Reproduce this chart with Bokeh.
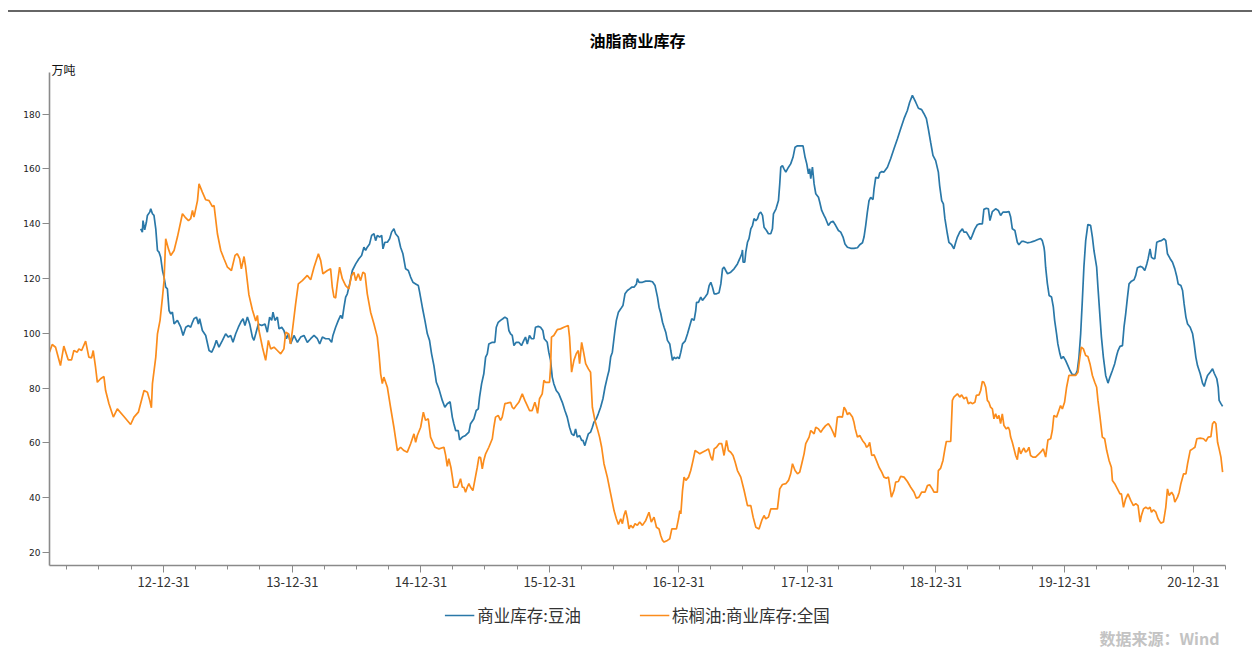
import numpy as np
import pandas as pd
from bokeh.plotting import figure
from bokeh.models import (Range1d, FixedTicker, CustomJSTickFormatter, Legend,
                          LegendItem, Div, Title, Label)
from bokeh.layouts import column
from bokeh.embed import file_html
from bokeh.resources import INLINE

TITLE = "油脂商业库存"
UNIT = "万吨"
SOURCE = "数据来源：Wind"
SERIES_NAMES = ["商业库存:豆油", "棕榈油:商业库存:全国"]

# dates as decimal years
soy_t = [2012.819, 2012.832, 2012.837, 2012.850, 2012.863, 2012.871, 2012.889, 2012.897, 2012.910, 2012.922,
         2012.936, 2012.949, 2012.961, 2012.974, 2012.988, 2013.000, 2013.013, 2013.026, 2013.039, 2013.052,
         2013.065, 2013.078, 2013.104, 2013.130, 2013.148, 2013.169, 2013.190, 2013.207, 2013.221, 2013.233,
         2013.252, 2013.267, 2013.277, 2013.298, 2013.324, 2013.350, 2013.371, 2013.389, 2013.407, 2013.427,
         2013.454, 2013.479, 2013.500, 2013.518, 2013.536, 2013.557, 2013.578, 2013.596, 2013.614, 2013.629,
         2013.648, 2013.666, 2013.687, 2013.699, 2013.713, 2013.733, 2013.759, 2013.785, 2013.803, 2013.821,
         2013.837, 2013.847, 2013.862, 2013.881, 2013.894, 2013.915, 2013.932, 2013.951, 2013.967, 2013.984,
         2014.010, 2014.037, 2014.062, 2014.088, 2014.114, 2014.140, 2014.166, 2014.192, 2014.210, 2014.231,
         2014.256, 2014.282, 2014.303, 2014.313, 2014.334, 2014.355, 2014.373, 2014.386, 2014.399, 2014.412,
         2014.425, 2014.443, 2014.464, 2014.490, 2014.515, 2014.536, 2014.554, 2014.567, 2014.580, 2014.598,
         2014.614, 2014.632, 2014.645, 2014.658, 2014.676, 2014.692, 2014.702, 2014.717, 2014.736, 2014.754,
         2014.769, 2014.787, 2014.800, 2014.821, 2014.839, 2014.857, 2014.878, 2014.899, 2014.917, 2014.935,
         2014.956, 2014.977, 2014.987, 2015.008, 2015.028, 2015.047, 2015.064, 2015.080, 2015.098, 2015.117,
         2015.137, 2015.163, 2015.183, 2015.202, 2015.224, 2015.241, 2015.253, 2015.267, 2015.287, 2015.298,
         2015.319, 2015.344, 2015.370, 2015.383, 2015.409, 2015.427, 2015.443, 2015.453, 2015.469, 2015.486,
         2015.500, 2015.513, 2015.525, 2015.552, 2015.572, 2015.583, 2015.598, 2015.616, 2015.634, 2015.650,
         2015.668, 2015.681, 2015.694, 2015.707, 2015.720, 2015.738, 2015.758, 2015.779, 2015.797, 2015.810,
         2015.824, 2015.841, 2015.857, 2015.875, 2015.888, 2015.909, 2015.927, 2015.945, 2015.956, 2015.979,
         2015.991, 2016.005, 2016.018, 2016.030, 2016.049, 2016.069, 2016.096, 2016.116, 2016.134, 2016.152,
         2016.168, 2016.186, 2016.199, 2016.212, 2016.230, 2016.246, 2016.256, 2016.271, 2016.282, 2016.298,
         2016.315, 2016.329, 2016.341, 2016.360, 2016.375, 2016.393, 2016.411, 2016.427, 2016.445, 2016.458,
         2016.471, 2016.484, 2016.504, 2016.515, 2016.531, 2016.549, 2016.566, 2016.582, 2016.601, 2016.618,
         2016.634, 2016.652, 2016.671, 2016.678, 2016.691, 2016.717, 2016.743, 2016.774, 2016.795, 2016.815,
         2016.834, 2016.846, 2016.859, 2016.873, 2016.885, 2016.898, 2016.911, 2016.929, 2016.937, 2016.950,
         2016.963, 2016.976, 2016.989, 2017.002, 2017.015, 2017.028, 2017.048, 2017.067, 2017.085, 2017.100,
         2017.118, 2017.131, 2017.137, 2017.152, 2017.170, 2017.183, 2017.204, 2017.222, 2017.235, 2017.248,
         2017.261, 2017.274, 2017.292, 2017.312, 2017.326, 2017.339, 2017.351, 2017.364, 2017.378, 2017.403,
         2017.429, 2017.455, 2017.473, 2017.489, 2017.494, 2017.499, 2017.512, 2017.520, 2017.533, 2017.545,
         2017.559, 2017.572, 2017.584, 2017.598, 2017.611, 2017.623, 2017.636, 2017.650, 2017.662, 2017.681,
         2017.696, 2017.714, 2017.727, 2017.735, 2017.755, 2017.774, 2017.784, 2017.792, 2017.805, 2017.817,
         2017.831, 2017.852, 2017.869, 2017.887, 2017.903, 2017.922, 2017.965, 2017.981, 2017.994, 2018.007,
         2018.017, 2018.025, 2018.038, 2018.051, 2018.064, 2018.085, 2018.095, 2018.110, 2018.128, 2018.141,
         2018.162, 2018.180, 2018.198, 2018.219, 2018.240, 2018.258, 2018.276, 2018.291, 2018.310, 2018.336,
         2018.361, 2018.388, 2018.406, 2018.427, 2018.439, 2018.452, 2018.465, 2018.478, 2018.491, 2018.509,
         2018.517, 2018.530, 2018.551, 2018.561, 2018.577, 2018.594, 2018.621, 2018.646, 2018.672, 2018.699,
         2018.724, 2018.750, 2018.776, 2018.794, 2018.815, 2018.841, 2018.862, 2018.887, 2018.905, 2018.924,
         2018.939, 2018.957, 2018.975, 2018.996, 2019.017, 2019.027, 2019.043, 2019.056, 2019.068, 2019.087,
         2019.099, 2019.120, 2019.138, 2019.152, 2019.165, 2019.183, 2019.204, 2019.216, 2019.235, 2019.250,
         2019.268, 2019.281, 2019.301, 2019.320, 2019.338, 2019.359, 2019.371, 2019.390, 2019.406, 2019.418,
         2019.437, 2019.462, 2019.483, 2019.501, 2019.519, 2019.545, 2019.566, 2019.579, 2019.592, 2019.612,
         2019.631, 2019.643, 2019.664, 2019.682, 2019.709, 2019.734, 2019.760, 2019.786, 2019.812, 2019.825,
         2019.838, 2019.843, 2019.851, 2019.864, 2019.878, 2019.897, 2019.911, 2019.921, 2019.936, 2019.946,
         2019.962, 2019.973, 2019.988, 2020.006, 2020.024, 2020.040, 2020.058, 2020.084, 2020.097, 2020.110,
         2020.123, 2020.136, 2020.148, 2020.162, 2020.179, 2020.200, 2020.214, 2020.226, 2020.247, 2020.257,
         2020.273, 2020.284, 2020.299, 2020.317, 2020.335, 2020.350, 2020.369, 2020.387, 2020.402, 2020.413,
         2020.428, 2020.447, 2020.459, 2020.472, 2020.486, 2020.498, 2020.517, 2020.537, 2020.550, 2020.563,
         2020.584, 2020.602, 2020.620, 2020.636, 2020.646, 2020.661, 2020.672, 2020.688, 2020.698, 2020.713,
         2020.731, 2020.749, 2020.770, 2020.783, 2020.796, 2020.817, 2020.835, 2020.853, 2020.869, 2020.879,
         2020.900, 2020.913, 2020.925, 2020.939, 2020.952, 2020.972, 2020.991, 2021.003, 2021.016, 2021.029,
         2021.050, 2021.068, 2021.081, 2021.094, 2021.107, 2021.127, 2021.146, 2021.159, 2021.179, 2021.190,
         2021.197, 2021.211, 2021.224]
soy_v = [138.1, 136.9, 141.1, 137.7, 140.5, 143.0, 144.2, 145.4, 143.6, 143.0,
         138.1, 130.2, 129.6, 127.7, 122.9, 120.5, 116.8, 116.2, 108.3, 107.1,
         107.7, 103.4, 104.7, 102.2, 99.2, 102.2, 102.8, 102.2, 104.0, 105.3,
         105.9, 103.4, 105.3, 101.0, 99.2, 93.7, 93.1, 94.9, 97.4, 94.9,
         97.4, 99.8, 98.6, 99.2, 96.7, 99.8, 102.2, 104.0, 105.3, 102.8,
         105.9, 103.4, 98.6, 97.4, 99.8, 103.4, 102.8, 103.4, 100.4, 105.9,
         104.7, 107.7, 104.7, 105.9, 101.6, 102.2, 101.0, 98.0, 99.8, 96.1,
         99.2, 96.7, 98.6, 99.2, 96.7, 98.0, 99.2, 98.0, 96.1, 98.6,
         98.0, 98.0, 96.7, 99.2, 102.2, 104.7, 106.5, 105.3, 109.5, 113.2,
         114.4, 118.0, 122.9, 125.3, 127.2, 128.4, 131.4, 130.2, 131.4, 132.6,
         135.7, 136.3, 133.8, 135.7, 135.1, 135.7, 130.8, 133.2, 133.2, 134.5,
         136.9, 138.1, 136.3, 135.1, 131.4, 129.0, 123.5, 122.9, 120.5, 118.6,
         118.0, 117.4, 115.0, 109.5, 104.7, 99.8, 97.4, 92.5, 88.2, 82.1,
         79.7, 75.5, 73.0, 74.3, 75.0, 69.4, 67.0, 64.5, 64.5, 61.1,
         62.1, 62.7, 63.9, 67.0, 68.8, 71.8, 72.4, 76.7, 81.6, 85.2,
         91.3, 92.5, 96.1, 96.7, 96.7, 102.2, 104.0, 104.7, 105.3, 105.9,
         105.3, 101.0, 99.8, 99.2, 95.5, 96.7, 96.7, 95.5, 97.4, 98.6,
         96.1, 99.2, 98.0, 98.0, 102.2, 102.5, 102.2, 101.0, 98.0, 96.7,
         93.1, 90.1, 84.0, 81.6, 79.1, 77.9, 74.8, 71.8, 69.4, 65.7,
         63.3, 62.7, 65.1, 62.1, 62.7, 60.9, 60.9, 59.0, 60.9, 63.3,
         63.9, 65.7, 67.5, 68.8, 70.6, 73.0, 76.1, 80.3, 84.0, 86.4,
         91.3, 93.1, 101.0, 104.7, 107.7, 108.9, 110.1, 114.4, 115.6, 116.2,
         116.8, 116.8, 118.0, 119.9, 118.6, 118.6, 119.0, 119.0, 118.8, 117.4,
         113.2, 109.5, 107.3, 104.0, 102.2, 100.4, 97.4, 96.1, 93.7, 90.1,
         91.3, 90.7, 91.3, 90.7, 93.1, 96.1, 97.1, 99.8, 102.8, 105.3,
         104.7, 108.3, 111.3, 111.3, 113.2, 112.0, 113.2, 114.4, 117.4, 118.6,
         116.8, 114.4, 114.4, 114.8, 118.0, 123.5, 124.1, 122.9, 121.7, 122.3,
         123.5, 125.3, 127.2, 129.0, 130.4, 125.9, 125.9, 129.6, 133.2, 134.5,
         138.1, 139.3, 141.8, 141.1, 141.8, 143.6, 144.2, 143.0, 138.7, 137.5,
         136.3, 136.3, 138.1, 143.6, 145.4, 148.4, 154.5, 160.6, 161.2, 160.0,
         158.8, 160.6, 161.8, 164.2, 167.9, 168.4, 168.4, 164.2, 161.8, 158.2,
         160.0, 156.4, 160.6, 154.5, 150.9, 149.6, 147.8, 144.8, 143.0, 141.8,
         139.3, 140.5, 140.9, 139.3, 137.5, 136.9, 135.1, 132.6, 131.4, 131.0,
         131.0, 131.2, 132.3, 133.0, 135.1, 139.3, 144.2, 148.4, 149.6, 148.8,
         152.7, 156.9, 156.6, 158.5, 159.0, 158.8, 160.6, 163.7, 167.3, 171.0,
         174.6, 178.3, 181.3, 184.3, 186.8, 184.3, 182.1, 181.6, 180.1, 178.3,
         174.6, 169.7, 164.9, 163.0, 158.8, 153.9, 148.4, 147.2, 141.8, 136.3,
         133.2, 132.3, 130.8, 133.2, 135.1, 136.9, 138.1, 136.9, 136.9, 135.7,
         134.2, 135.7, 138.1, 139.6, 139.9, 139.9, 145.2, 145.6, 145.4, 141.1,
         144.4, 145.4, 144.8, 143.0, 144.2, 144.2, 144.4, 142.4, 138.1, 137.5,
         133.2, 132.3, 133.5, 133.5, 133.0, 133.2, 133.6, 134.1, 134.6, 133.8,
         131.4, 129.6, 124.1, 118.3, 113.8, 113.2, 109.5, 104.7, 99.8, 96.1,
         92.5, 90.7, 91.5, 90.1, 88.2, 86.4, 84.9, 84.9, 86.4, 91.3,
         99.8, 112.0, 124.1, 133.8, 139.7, 139.4, 135.1, 130.2, 124.1, 116.8,
         105.9, 98.6, 91.3, 84.6, 81.8, 84.0, 86.4, 88.9, 91.9, 93.7,
         95.2, 95.5, 102.2, 107.1, 113.2, 118.0, 119.0, 119.5, 121.1, 123.9,
         124.4, 124.1, 122.9, 125.3, 127.2, 130.8, 127.7, 127.2, 127.2, 133.2,
         133.6, 133.8, 134.5, 133.8, 129.0, 127.2, 125.9, 123.5, 120.5, 118.0,
         117.4, 115.6, 110.7, 105.9, 103.4, 102.2, 99.8, 96.1, 91.3, 88.2,
         85.2, 81.8, 80.6, 82.8, 84.6, 85.8, 87.0, 85.4, 83.4, 80.3,
         75.5, 74.3, 73.3]

palm_t = [2012.112, 2012.133, 2012.159, 2012.197, 2012.223, 2012.257, 2012.283, 2012.301, 2012.327, 2012.340,
          2012.361, 2012.392, 2012.417, 2012.438, 2012.451, 2012.469, 2012.483, 2012.508, 2012.534, 2012.547,
          2012.573, 2012.607, 2012.638, 2012.689, 2012.741, 2012.767, 2012.801, 2012.845, 2012.871, 2012.889,
          2012.902, 2012.910, 2012.936, 2012.949, 2012.969, 2012.988, 2013.000, 2013.013, 2013.034, 2013.052,
          2013.078, 2013.104, 2013.143, 2013.163, 2013.190, 2013.207, 2013.221, 2013.233, 2013.260, 2013.272,
          2013.298, 2013.324, 2013.350, 2013.376, 2013.389, 2013.415, 2013.441, 2013.466, 2013.493, 2013.524,
          2013.552, 2013.570, 2013.588, 2013.601, 2013.622, 2013.635, 2013.660, 2013.687, 2013.713, 2013.726,
          2013.738, 2013.765, 2013.790, 2013.811, 2013.829, 2013.855, 2013.881, 2013.907, 2013.932, 2013.946,
          2013.967, 2013.984, 2013.998, 2014.023, 2014.044, 2014.075, 2014.114, 2014.140, 2014.166, 2014.200,
          2014.218, 2014.235, 2014.270, 2014.295, 2014.308, 2014.321, 2014.334, 2014.347, 2014.365, 2014.386,
          2014.412, 2014.437, 2014.458, 2014.476, 2014.490, 2014.510, 2014.528, 2014.546, 2014.562, 2014.580,
          2014.606, 2014.632, 2014.658, 2014.671, 2014.684, 2014.697, 2014.709, 2014.736, 2014.761, 2014.787,
          2014.814, 2014.839, 2014.865, 2014.891, 2014.917, 2014.943, 2014.956, 2014.969, 2014.995, 2015.016,
          2015.033, 2015.054, 2015.072, 2015.106, 2015.137, 2015.176, 2015.189, 2015.202, 2015.214, 2015.230,
          2015.241, 2015.253, 2015.280, 2015.292, 2015.305, 2015.319, 2015.331, 2015.344, 2015.357, 2015.370,
          2015.383, 2015.401, 2015.416, 2015.435, 2015.448, 2015.461, 2015.474, 2015.486, 2015.500, 2015.525,
          2015.552, 2015.564, 2015.577, 2015.598, 2015.616, 2015.629, 2015.650, 2015.668, 2015.694, 2015.707,
          2015.720, 2015.738, 2015.758, 2015.785, 2015.805, 2015.824, 2015.841, 2015.862, 2015.883, 2015.894,
          2015.904, 2015.919, 2015.940, 2015.953, 2015.966, 2015.997, 2016.005, 2016.012, 2016.030, 2016.057,
          2016.082, 2016.108, 2016.142, 2016.152, 2016.168, 2016.186, 2016.204, 2016.220, 2016.230, 2016.246,
          2016.261, 2016.277, 2016.298, 2016.315, 2016.329, 2016.349, 2016.368, 2016.385, 2016.401, 2016.419,
          2016.445, 2016.471, 2016.497, 2016.515, 2016.531, 2016.549, 2016.562, 2016.574, 2016.587, 2016.601,
          2016.613, 2016.626, 2016.644, 2016.660, 2016.678, 2016.696, 2016.717, 2016.743, 2016.768, 2016.786,
          2016.807, 2016.826, 2016.846, 2016.859, 2016.873, 2016.885, 2016.911, 2016.929, 2016.945, 2016.981,
          2016.997, 2017.007, 2017.015, 2017.028, 2017.040, 2017.054, 2017.075, 2017.092, 2017.110, 2017.126,
          2017.145, 2017.162, 2017.183, 2017.209, 2017.230, 2017.248, 2017.261, 2017.274, 2017.292, 2017.312,
          2017.333, 2017.351, 2017.370, 2017.385, 2017.403, 2017.421, 2017.437, 2017.455, 2017.481, 2017.507,
          2017.533, 2017.559, 2017.577, 2017.598, 2017.623, 2017.644, 2017.662, 2017.675, 2017.696, 2017.714,
          2017.766, 2017.784, 2017.805, 2017.831, 2017.852, 2017.869, 2017.883, 2017.903, 2017.922, 2017.939,
          2017.955, 2017.973, 2017.986, 2018.012, 2018.025, 2018.038, 2018.051, 2018.064, 2018.085, 2018.103,
          2018.120, 2018.141, 2018.162, 2018.180, 2018.198, 2018.214, 2018.232, 2018.250, 2018.271, 2018.284,
          2018.297, 2018.310, 2018.325, 2018.349, 2018.361, 2018.371, 2018.388, 2018.406, 2018.427, 2018.447,
          2018.458, 2018.473, 2018.483, 2018.499, 2018.517, 2018.535, 2018.556, 2018.577, 2018.594, 2018.613,
          2018.629, 2018.639, 2018.652, 2018.672, 2018.685, 2018.706, 2018.724, 2018.750, 2018.776, 2018.802,
          2018.828, 2018.846, 2018.866, 2018.887, 2018.913, 2018.932, 2018.949, 2018.970, 2018.983, 2019.009,
          2019.017, 2019.035, 2019.053, 2019.068, 2019.079, 2019.113, 2019.126, 2019.138, 2019.165, 2019.183,
          2019.198, 2019.216, 2019.235, 2019.250, 2019.268, 2019.281, 2019.301, 2019.312, 2019.333, 2019.346,
          2019.359, 2019.371, 2019.385, 2019.398, 2019.410, 2019.423, 2019.437, 2019.449, 2019.462, 2019.476,
          2019.488, 2019.501, 2019.514, 2019.527, 2019.545, 2019.561, 2019.571, 2019.579, 2019.592, 2019.605,
          2019.618, 2019.631, 2019.643, 2019.657, 2019.670, 2019.682, 2019.695, 2019.709, 2019.721, 2019.734,
          2019.752, 2019.773, 2019.799, 2019.812, 2019.833, 2019.851, 2019.869, 2019.890, 2019.903, 2019.915,
          2019.936, 2019.954, 2019.967, 2019.981, 2019.998, 2020.014, 2020.032, 2020.058, 2020.084, 2020.102,
          2020.117, 2020.128, 2020.144, 2020.162, 2020.179, 2020.195, 2020.214, 2020.232, 2020.247, 2020.257,
          2020.273, 2020.291, 2020.309, 2020.325, 2020.343, 2020.361, 2020.369, 2020.387, 2020.408, 2020.428,
          2020.439, 2020.455, 2020.472, 2020.490, 2020.511, 2020.532, 2020.550, 2020.568, 2020.584, 2020.594,
          2020.610, 2020.628, 2020.646, 2020.661, 2020.672, 2020.688, 2020.706, 2020.723, 2020.744, 2020.765,
          2020.783, 2020.796, 2020.809, 2020.828, 2020.843, 2020.853, 2020.874, 2020.887, 2020.900, 2020.921,
          2020.939, 2020.952, 2020.972, 2020.991, 2021.009, 2021.024, 2021.050, 2021.076, 2021.094, 2021.112,
          2021.133, 2021.146, 2021.159, 2021.172, 2021.185, 2021.197, 2021.211, 2021.224]
palm_v = [93.1, 95.9, 94.9, 88.2, 95.3, 90.3, 90.3, 93.7, 93.1, 94.3,
          93.7, 97.1, 91.3, 91.0, 93.7, 87.6, 82.1, 83.4, 84.2, 79.1,
          74.3, 69.4, 72.4, 69.6, 66.7, 69.4, 71.2, 79.1, 78.5, 75.5,
          72.8, 81.6, 91.3, 99.8, 104.7, 113.2, 119.2, 134.5, 130.8, 128.4,
          130.2, 135.1, 143.6, 142.4, 141.1, 141.8, 144.8, 142.4, 148.4, 154.5,
          151.5, 148.7, 148.4, 146.2, 146.6, 136.3, 130.2, 127.2, 124.1, 122.9,
          128.4, 129.0, 127.2, 123.5, 128.0, 124.0, 114.0, 108.5, 104.5, 106.5,
          101.0, 94.9, 90.1, 97.4, 94.3, 94.9, 93.7, 92.5, 94.3, 100.4,
          99.8, 96.1, 101.0, 110.7, 118.0, 119.2, 121.1, 119.5, 124.1, 129.0,
          126.5, 121.7, 122.9, 123.5, 116.8, 113.2, 112.9, 118.0, 124.1, 119.9,
          117.4, 116.2, 121.1, 122.3, 119.2, 121.7, 119.2, 122.3, 121.7, 114.4,
          107.7, 103.4, 98.6, 92.5, 85.2, 81.6, 84.0, 80.3, 73.0, 65.7,
          57.2, 58.4, 57.2, 56.6, 59.7, 63.3, 60.2, 62.7, 65.7, 71.2,
          68.2, 68.8, 62.1, 58.4, 57.8, 58.4, 55.5, 51.4, 54.2, 51.1,
          47.8, 43.8, 43.8, 45.1, 46.9, 43.8, 43.8, 42.0, 43.8, 45.1,
          43.8, 42.6, 46.3, 51.1, 54.8, 54.6, 50.5, 53.6, 56.0, 58.4,
          61.5, 65.7, 69.4, 70.0, 68.2, 69.4, 74.3, 74.5, 74.8, 73.0,
          72.4, 73.6, 74.8, 77.9, 75.5, 73.6, 71.8, 71.8, 74.8, 73.0,
          70.8, 76.1, 77.9, 82.8, 82.1, 82.1, 87.6, 98.6, 99.2, 101.3,
          101.6, 102.2, 102.8, 98.6, 85.8, 90.1, 92.5, 93.7, 88.9, 96.7,
          93.1, 88.9, 87.0, 85.8, 73.0, 68.2, 65.1, 62.1, 58.4, 52.4,
          47.5, 41.4, 35.3, 32.3, 30.2, 32.3, 30.5, 33.5, 35.3, 32.3,
          28.6, 29.9, 29.0, 30.5, 29.9, 31.1, 29.9, 31.7, 34.7, 31.1,
          32.9, 29.2, 28.6, 26.2, 24.4, 23.8, 24.4, 25.0, 28.6, 28.6,
          32.3, 35.3, 34.1, 42.6, 47.5, 46.3, 47.5, 49.9, 53.6, 57.2,
          56.6, 56.0, 56.6, 57.2, 57.8, 54.8, 53.6, 57.8, 58.4, 59.7,
          59.7, 55.4, 60.9, 57.2, 56.6, 55.4, 53.0, 49.9, 47.5, 42.6,
          37.1, 37.1, 32.9, 29.2, 28.6, 31.7, 33.5, 32.3, 32.9, 35.9,
          35.9, 43.2, 44.8, 45.1, 46.3, 48.7, 52.4, 49.9, 48.7, 49.3,
          52.4, 56.0, 59.7, 62.1, 64.5, 63.9, 63.3, 65.7, 65.1, 63.9,
          65.1, 66.3, 67.0, 65.7, 63.9, 62.1, 69.4, 69.6, 69.4, 73.0,
          72.0, 70.3, 71.0, 69.4, 67.5, 65.1, 62.1, 62.7, 60.9, 59.7,
          58.4, 59.0, 60.2, 55.4, 55.6, 53.6, 51.1, 49.3, 47.5, 47.1,
          47.5, 44.4, 40.2, 42.6, 45.7, 45.9, 47.8, 47.5, 45.9, 43.8,
          42.0, 39.8, 40.2, 42.0, 42.0, 44.4, 44.7, 43.2, 42.0, 42.0,
          49.9, 50.8, 53.6, 57.8, 60.5, 60.5, 75.5, 76.7, 77.9, 76.7,
          77.5, 76.1, 76.7, 74.3, 74.8, 74.3, 74.8, 77.3, 77.5, 79.1,
          82.4, 82.1, 80.3, 75.5, 74.8, 73.0, 72.4, 68.8, 70.6, 68.8,
          70.0, 67.0, 70.6, 66.3, 65.1, 65.7, 64.5, 62.1, 60.2, 57.8,
          55.4, 53.9, 58.4, 56.0, 57.2, 58.1, 56.6, 57.2, 58.4, 55.4,
          54.8, 54.8, 56.0, 56.6, 57.8, 54.8, 61.1, 61.5, 64.5, 70.0,
          69.4, 71.8, 73.6, 72.4, 74.8, 80.3, 84.6, 84.6, 84.6, 85.8,
          91.3, 94.9, 94.3, 91.9, 91.5, 88.9, 84.6, 82.1, 80.3, 75.5,
          69.4, 62.1, 61.5, 57.2, 53.6, 51.1, 46.3, 45.1, 43.2, 41.4,
          41.4, 36.5, 39.6, 41.4, 39.0, 37.1, 37.8, 37.1, 31.1, 33.5,
          35.9, 36.5, 35.9, 36.5, 34.7, 35.6, 34.7, 32.3, 30.7, 31.1,
          36.5, 43.2, 40.8, 42.0, 40.8, 38.4, 40.2, 42.0, 45.1, 48.7,
          48.7, 52.4, 57.2, 57.8, 58.4, 61.5, 61.7, 61.5, 60.6, 62.1,
          62.3, 67.0, 67.8, 67.0, 60.2, 57.8, 54.8, 49.3]

y_ticks = [20, 40, 60, 80, 100, 120, 140, 160, 180]
x_major_dates = ["2012-12-31", "2013-12-31", "2014-12-31", "2015-12-31", "2016-12-31",
                 "2017-12-31", "2018-12-31", "2019-12-31", "2020-12-31"]
x_minor_dates = [f"{y}-{md}" for y in range(2012, 2022) for md in ("03-31", "06-30", "09-30", "12-31")]


def to_dt(ts):
    out = []
    for t in ts:
        y = int(np.floor(t))
        s = pd.Timestamp(year=y, month=1, day=1)
        e = pd.Timestamp(year=y + 1, month=1, day=1)
        out.append((s + (e - s) * (t - y)).to_pydatetime())
    return out


def ms(s):
    return int(pd.Timestamp(s).value // 10**6)


soy_x = to_dt(soy_t)
palm_x = to_dt(palm_t)

BLUE = "#2a78a8"
ORANGE = "#fb8c1c"
CJK = "Noto Sans CJK SC"

x_start = palm_x[0]
x_end = pd.Timestamp("2021-04-01").to_pydatetime()
y_lo, y_hi = 15.25, 195.15

# ---- main chart ----
p = figure(width=1252, height=589, x_axis_type="datetime",
           x_range=Range1d(x_start, x_end), y_range=Range1d(y_lo, y_hi),
           output_backend="svg", toolbar_location=None, title_location=None,
           min_border_left=49, min_border_right=27, min_border_top=60, min_border_bottom=36,
           background_fill_color="white", border_fill_color="white", outline_line_color=None)

p.line(soy_x, soy_v, line_color=BLUE, line_width=1.7)
p.line(palm_x, palm_v, line_color=ORANGE, line_width=1.7)

# unit label (closest to the frame), then main title above it
p.add_layout(Title(text=UNIT, align="left", offset=2, standoff=-10,
                   text_font=CJK, text_font_size="12px", text_font_style="normal",
                   text_color="#111111"), "above")
p.add_layout(Title(text=TITLE, align="center", offset=-3, standoff=23,
                   text_font=CJK, text_font_size="16px", text_font_style="bold",
                   text_color="#000000"), "above")

p.xgrid.visible = False
p.ygrid.visible = False

for ax in (p.xaxis[0], p.yaxis[0]):
    ax.axis_line_color = "#8a8a8a"
    ax.axis_line_width = 1.6
    ax.major_tick_line_color = "#8a8a8a"
    ax.minor_tick_line_color = "#8a8a8a"
    ax.major_tick_in = 0
    ax.minor_tick_in = 0

p.yaxis.ticker = FixedTicker(ticks=y_ticks, minor_ticks=[])
p.yaxis.major_tick_out = 7
p.yaxis.major_label_standoff = 2
p.yaxis.major_label_text_font = "DejaVu Sans"
p.yaxis.major_label_text_font_size = "9px"
p.yaxis.major_label_text_color = "#222222"

p.xaxis.ticker = FixedTicker(ticks=[ms(d) for d in x_major_dates],
                             minor_ticks=[ms(d) for d in x_minor_dates])
p.xaxis.formatter = CustomJSTickFormatter(code="""
const d = new Date(tick);
const y = String(d.getUTCFullYear() % 100).padStart(2, '0');
const m = String(d.getUTCMonth() + 1).padStart(2, '0');
const dd = String(d.getUTCDate()).padStart(2, '0');
return y + '-' + m + '-' + dd;
""")
p.xaxis.major_tick_out = 7
p.xaxis.minor_tick_out = 4
p.xaxis.major_label_standoff = 4
p.xaxis.major_label_text_font = CJK
p.xaxis.major_label_text_font_size = "13px"
p.xaxis.major_label_text_color = "#333333"

# ---- legend + source strip under the chart ----
# the same two series are drawn here (outside this strip's visible range) so the legend keys carry their styles
q = figure(width=1252, height=46, x_range=Range1d(0, 1), y_range=Range1d(0, 1),
           output_backend="svg", toolbar_location=None,
           x_axis_location=None, y_axis_location=None,
           min_border_left=22, min_border_right=0, min_border_top=0, min_border_bottom=0,
           background_fill_color="white", border_fill_color="white", outline_line_color=None)
q.xgrid.visible = False
q.ygrid.visible = False
k_soy = q.line([ms(d) for d in pd.DatetimeIndex(soy_x).strftime("%Y-%m-%d")], soy_v,
               line_color=BLUE, line_width=1.7)
k_palm = q.line([ms(d) for d in pd.DatetimeIndex(palm_x).strftime("%Y-%m-%d")], palm_v,
                line_color=ORANGE, line_width=1.7)

legend = Legend(items=[LegendItem(label=SERIES_NAMES[0], renderers=[k_soy]),
                       LegendItem(label=SERIES_NAMES[1], renderers=[k_palm])],
                orientation="horizontal", location="top_center",
                border_line_color=None, background_fill_alpha=0,
                label_text_font=CJK, label_text_font_size="16.5px", label_text_color="#333333",
                glyph_width=30, glyph_height=18, label_height=18, label_standoff=3, spacing=58,
                padding=0, margin=2)
q.add_layout(legend)

q.add_layout(Label(x=1, y=0, x_offset=-6, y_offset=10, text=SOURCE,
                   text_font=CJK, text_font_size="16px", text_font_style="bold",
                   text_color="#c3c3c3", text_align="right", text_baseline="middle"))

top_line = Div(text="", width=1244, height=2, margin=(10, 0, 0, 8),
               styles={"background-color": "#666666"})

layout = column(top_line, p, q, spacing=0)
open("out.html", "w").write(file_html(layout, INLINE))
